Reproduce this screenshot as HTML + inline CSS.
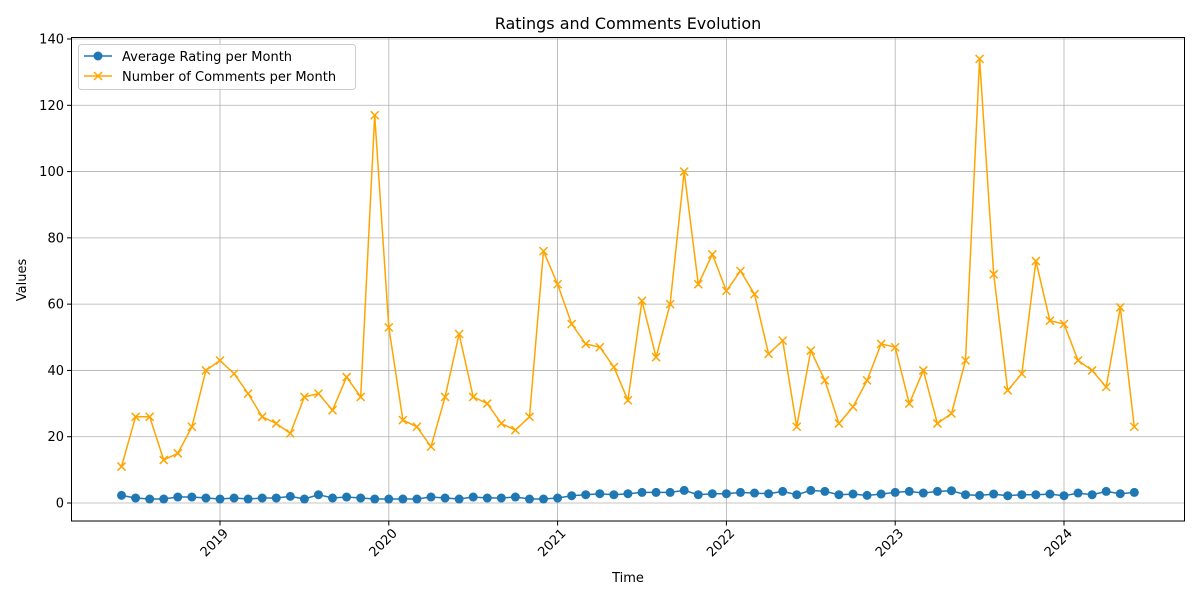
<!DOCTYPE html>
<html><head><meta charset="utf-8"><style>
html,body{margin:0;padding:0;background:#fff;}
svg{display:block;font-family:"DejaVu Sans","Liberation Sans",sans-serif;}
</style></head><body>
<svg id="chart" width="1200" height="600" viewBox="0 0 1200 600">
<rect x="0" y="0" width="1200" height="600" fill="#fff"/>
<text x="628" y="29" text-anchor="middle" font-size="16">Ratings and Comments Evolution</text>
<text x="628" y="582" text-anchor="middle" font-size="13">Time</text>
<text transform="translate(26,280) rotate(-90)" text-anchor="middle" font-size="13">Values</text>
<g id="grid"></g>
<g id="series"></g>
<rect x="71.5" y="37.5" width="1113" height="483.5" fill="none" stroke="#000" stroke-width="1"/>
<g id="ticks"></g>
<g>
<rect x="78.5" y="44.5" width="277" height="45" rx="3" fill="#fff" fill-opacity="0.8" stroke="#ccc"/>
<g>
<line x1="84" y1="56" x2="112" y2="56" stroke="#1f77b4" stroke-width="1.5"/>
<circle cx="98" cy="56" r="4.5" fill="#1f77b4"/>
<text x="122" y="61" font-size="13">Average Rating per Month</text>
</g>
<g>
<line x1="84" y1="76" x2="112" y2="76" stroke="#ffa500" stroke-width="1.5"/>
<path d="M94,72 L102,80 M94,80 L102,72" stroke="#ffa500" stroke-width="1.5"/>
<text x="122" y="81" font-size="13">Number of Comments per Month</text>
</g>
</g>
</svg>
<script>
const startYear = 2018, startMonth = 6;
const ratings = [2.3,1.5,1.2,1.2,1.8,1.8,1.5,1.2,1.5,1.2,1.5,1.5,2,1.2,2.5,1.5,1.8,1.5,1.2,1.2,1.2,1.2,1.8,1.5,1.2,1.8,1.5,1.5,1.8,1.2,1.2,1.5,2.2,2.5,2.8,2.5,2.8,3.2,3.2,3.2,3.8,2.5,2.8,2.8,3.2,3,2.8,3.5,2.5,3.8,3.5,2.5,2.7,2.3,2.7,3.2,3.5,3,3.5,3.7,2.5,2.3,2.7,2.2,2.5,2.5,2.7,2.2,3,2.5,3.5,2.8,3.2];
const comments = [11,26,26,13,15,23,40,43,39,33,26,24,21,32,33,28,38,32,117,53,25,23,17,32,51,32,30,24,22,26,76,66,54,48,47,41,31,61,44,60,100,66,75,64,70,63,45,49,23,46,37,24,29,37,48,47,30,40,24,27,43,134,69,34,39,73,55,54,43,40,35,59,23];
const yTicks = [0,20,40,60,80,100,120,140];
const xTickYears = [2019,2020,2021,2022,2023,2024];

const NS = "http://www.w3.org/2000/svg";
function xs(t){ return 220 + (t - 2019) * 168.8; }
function ys(v){ return 503 - v * (464 / 140); }
function tOf(i){ const m = startMonth - 1 + i; return startYear + Math.floor(m/12) + (m%12)/12; }
function mk(tag, attrs, parent){ const e = document.createElementNS(NS, tag); for (const k in attrs) e.setAttribute(k, attrs[k]); parent.appendChild(e); return e; }

const grid = document.getElementById('grid'), ticks = document.getElementById('ticks'), series = document.getElementById('series');
yTicks.forEach(v => {
  const y = ys(v);
  const g = mk('line', {x1:72, x2:1185, y1:y, y2:y, stroke:'#b0b0b0', 'stroke-width':0.8}, grid);
  
  
  mk('line', {x1:67, x2:71.5, y1:y, y2:y, stroke:'#000'}, ticks);
  const t = mk('text', {x:64, y:y+4.5, 'text-anchor':'end', 'font-size':13}, ticks);
  t.textContent = v;
  
  
});
xTickYears.forEach(yr => {
  const x = xs(yr);
  const g = mk('line', {x1:x, x2:x, y1:38, y2:521, stroke:'#b0b0b0', 'stroke-width':0.8}, grid);
  
  
  mk('line', {x1:x, x2:x, y1:521, y2:525.5, stroke:'#000'}, ticks);
  const t = mk('text', {transform:'translate('+(x+9)+',534) rotate(-45)', 'text-anchor':'end', 'font-size':13}, ticks);
  t.textContent = yr;
  
  
});

const rPts = ratings.map((v,i) => xs(tOf(i)).toFixed(1)+','+ys(v).toFixed(1)).join(' ');
const rl = mk('polyline', {points:rPts, fill:'none', stroke:'#1f77b4', 'stroke-width':1.5}, series);


ratings.forEach((v,i) => {
  const c = mk('circle', {cx:xs(tOf(i)), cy:ys(v), r:4.5, fill:'#1f77b4'}, series);
  
  
});
const cPts = comments.map((v,i) => xs(tOf(i)).toFixed(1)+','+ys(v).toFixed(1)).join(' ');
const cl = mk('polyline', {points:cPts, fill:'none', stroke:'#ffa500', 'stroke-width':1.5}, series);


comments.forEach((v,i) => {
  const x = xs(tOf(i)), y = ys(v);
  const p = mk('path', {d:'M'+(x-4)+','+(y-4)+' L'+(x+4)+','+(y+4)+' M'+(x-4)+','+(y+4)+' L'+(x+4)+','+(y-4), stroke:'#ffa500', 'stroke-width':1.5, fill:'none'}, series);
  
  
});
</script>
</body></html>
